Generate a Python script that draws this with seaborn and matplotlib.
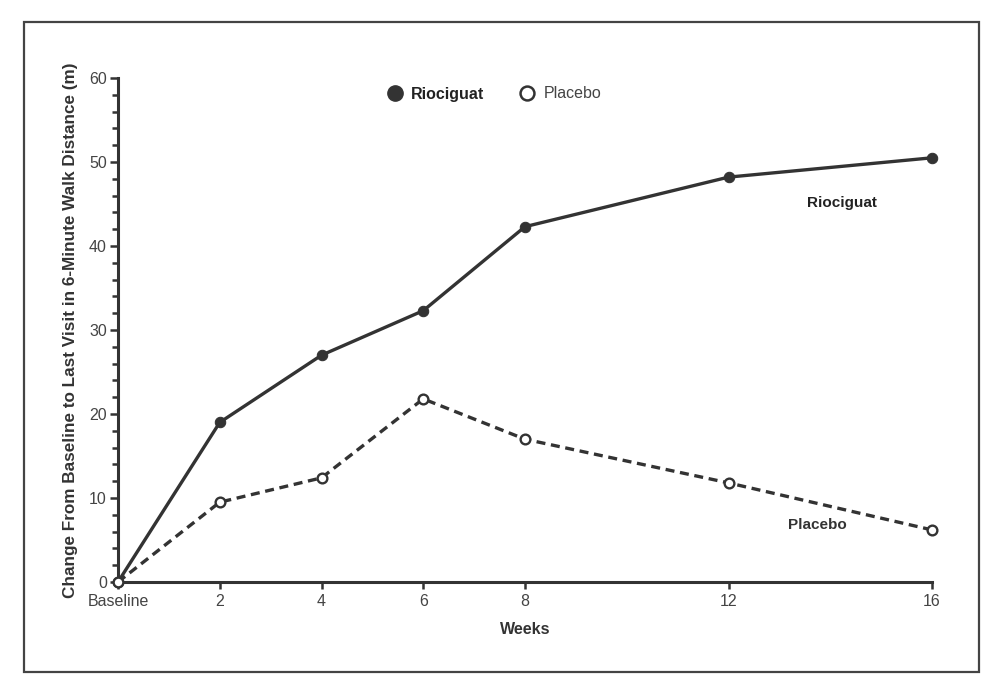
import numpy as np
import matplotlib
matplotlib.use("Agg")
import matplotlib.pyplot as plt
from matplotlib.lines import Line2D
from matplotlib.patches import Rectangle
from matplotlib.ticker import MultipleLocator
import pandas as pd
import seaborn as sns

weeks = [0, 2, 4, 6, 8, 12, 16]
week_labels = ['Baseline', '2', '4', '6', '8', '12', '16']
riociguat = [0, 19.0, 27.0, 32.3, 42.3, 48.2, 50.5]
placebo = [0, 9.5, 12.4, 21.8, 17.0, 11.8, 6.2]

df = pd.DataFrame({'week': weeks, 'Riociguat': riociguat, 'Placebo': placebo})

sns.set_style('ticks')
plt.rcParams['font.family'] = ['Liberation Sans', 'DejaVu Sans']

ink = '#333333'
fig = plt.figure(figsize=(9.94, 6.86), dpi=100)
ax = fig.add_axes([118 / 994, 1 - 582 / 686, (932 - 118) / 994, (582 - 78) / 686])

sns.lineplot(data=df, x='week', y='Riociguat', ax=ax, color=ink, lw=2.4,
             marker='o', markersize=7.5, markerfacecolor=ink, markeredgecolor=ink,
             clip_on=False, zorder=3)
sns.lineplot(data=df, x='week', y='Placebo', ax=ax, color=ink, lw=2.4,
             linestyle=(0, (2.7, 1.7)), marker='o', markersize=7,
             markerfacecolor='white', markeredgecolor=ink, markeredgewidth=1.7,
             clip_on=False, zorder=4)

ax.set_xlim(0, 16)
ax.set_ylim(0, 60)
ax.set_xticks(weeks)
ax.set_xticklabels(week_labels)
ax.yaxis.set_major_locator(MultipleLocator(10))
ax.yaxis.set_minor_locator(MultipleLocator(2))
ax.tick_params(axis='both', which='major', labelsize=11.5, colors=ink, width=1.8, length=6, pad=2)
ax.tick_params(axis='y', which='minor', width=1.8, length=4, colors=ink)
ax.tick_params(axis='x', which='major', length=5, pad=4)
for lab in ax.get_xticklabels() + ax.get_yticklabels():
    lab.set_color('#444444')
sns.despine(ax=ax)
for s in ['left', 'bottom']:
    ax.spines[s].set_linewidth(2.2)
    ax.spines[s].set_color(ink)

ax.set_xlabel('Weeks', fontsize=11.5, fontweight='bold', color=ink, labelpad=9)
ax.set_ylabel('Change From Baseline to Last Visit in 6-Minute Walk Distance (m)',
              fontsize=12.3, fontweight='bold', color=ink, labelpad=8)

ax.text(14.23, 45.1, 'Riociguat', fontsize=11, fontweight='bold', color='#222222',
        ha='center', va='center')
ax.text(13.74, 6.8, 'Placebo', fontsize=11, fontweight='bold', color='#333333',
        ha='center', va='center')

handles = [
    Line2D([], [], ls='none', marker='o', markersize=11, markerfacecolor=ink, markeredgecolor=ink),
    Line2D([], [], ls='none', marker='o', markersize=10, markerfacecolor='white',
           markeredgecolor=ink, markeredgewidth=1.8),
]
leg = fig.legend(handles, ['Riociguat', 'Placebo'], loc='center', bbox_to_anchor=(0.497, 1 - 94 / 686),
                 ncol=2, frameon=False, fontsize=11.5, handlelength=1.0, handletextpad=0.5,
                 columnspacing=2.2)
leg.get_texts()[0].set_fontweight('bold')
leg.get_texts()[0].set_color('#222222')
leg.get_texts()[1].set_color('#444444')

fig.patches.append(Rectangle((24 / 994, 1 - 672 / 686), (979 - 24) / 994, (672 - 22) / 686,
                             transform=fig.transFigure, fill=False, lw=1.6, edgecolor='#444444'))

fig.savefig('out.png', dpi=100)
